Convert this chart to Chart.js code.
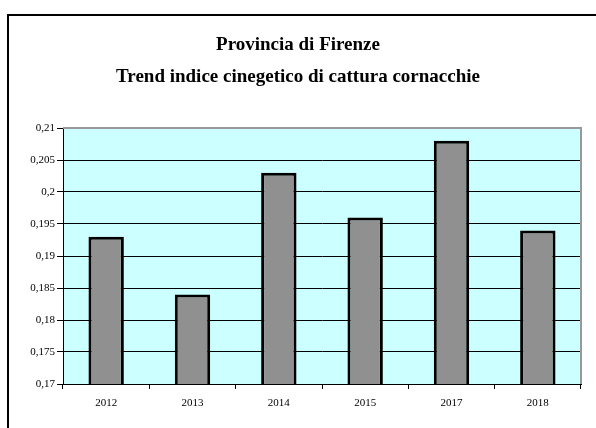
<!DOCTYPE html>
<html>
<head>
<meta charset="utf-8">
<script src="https://cdn.jsdelivr.net/npm/chart.js@4/dist/chart.umd.min.js"></script>
<style>
  html, body { margin: 0; padding: 0; background: #fff; }
  #wrap { width: 596px; height: 428px; position: relative; }
</style>
</head>
<body>
<div id="wrap"><canvas id="grafico" width="596" height="428"></canvas></div>
<script>
// dati del grafico
const titolo = ['Provincia di Firenze', 'Trend indice cinegetico di cattura cornacchie'];
const anni = ['2012', '2013', '2014', '2015', '2017', '2018'];
const indice = [0.193, 0.184, 0.203, 0.196, 0.208, 0.194];
const asseMin = 0.17;
const asseMax = 0.21;
const passo = 0.005;

// cornice, sfondo dell'area e titolo
const sfondoPlugin = {
  id: 'sfondo',
  beforeDraw(chart) {
    const ctx = chart.ctx;
    const a = chart.chartArea;
    ctx.save();
    ctx.fillStyle = '#fff';
    ctx.fillRect(0, 0, chart.width, chart.height);
    // cornice esterna (solo sinistra e sopra visibili)
    ctx.strokeStyle = '#000';
    ctx.lineWidth = 2;
    ctx.beginPath();
    ctx.moveTo(8, chart.height + 2);
    ctx.lineTo(8, 15);
    ctx.lineTo(chart.width + 2, 15);
    ctx.stroke();
    // sfondo area del grafico
    ctx.fillStyle = '#ccffff';
    ctx.fillRect(a.left, a.top, a.right - a.left, a.bottom - a.top);
    // titolo
    ctx.fillStyle = '#000';
    ctx.font = 'bold 19px "Liberation Serif", "DejaVu Serif", serif';
    ctx.textAlign = 'center';
    ctx.textBaseline = 'middle';
    ctx.fillText(titolo[0], 298, 45);
    ctx.fillText(titolo[1], 298, 77);
    ctx.restore();
  },
  afterDatasetsDraw(chart) {
    const ctx = chart.ctx;
    const a = chart.chartArea;
    ctx.save();
    ctx.strokeStyle = '#999';
    ctx.lineWidth = 2;
    ctx.beginPath();
    ctx.moveTo(a.left, a.top);
    ctx.lineTo(a.right, a.top);
    ctx.lineTo(a.right, a.bottom);
    ctx.stroke();
    ctx.restore();
  }
};

const fontAssi = { family: '"Liberation Serif", "DejaVu Serif", serif', size: 11 };

new Chart(document.getElementById('grafico'), {
  type: 'bar',
  data: {
    labels: anni,
    datasets: [{
      data: indice,
      backgroundColor: '#909090',
      borderColor: '#000',
      borderWidth: 3,
      borderSkipped: false,
      barPercentage: 0.41,
      categoryPercentage: 1
    }]
  },
  options: {
    responsive: false,
    animation: false,
    layout: { padding: { left: 0, top: 128, right: 15, bottom: 0 } },
    plugins: {
      legend: { display: false },
      title: { display: false },
      tooltip: { enabled: false }
    },
    scales: {
      x: {
        offset: true,
        grid: {
          offset: true,
          drawOnChartArea: false,
          drawTicks: true,
          tickLength: 5,
          color: '#000'
        },
        border: { color: '#000', width: 1 },
        ticks: { color: '#000', font: fontAssi, padding: 8, maxRotation: 0 },
        afterFit(scale) { scale.height = 44; }
      },
      y: {
        min: asseMin,
        max: asseMax,
        grid: {
          color: '#000',
          lineWidth: 1,
          drawTicks: true,
          tickLength: 6
        },
        border: { color: '#000', width: 1 },
        ticks: {
          stepSize: passo,
          color: '#000',
          font: fontAssi,
          padding: 2,
          callback: v => String(parseFloat(Number(v).toFixed(3))).replace('.', ',')
        },
        afterFit(scale) { scale.width = 63; }
      }
    }
  },
  plugins: [sfondoPlugin]
});
</script>
</body>
</html>
